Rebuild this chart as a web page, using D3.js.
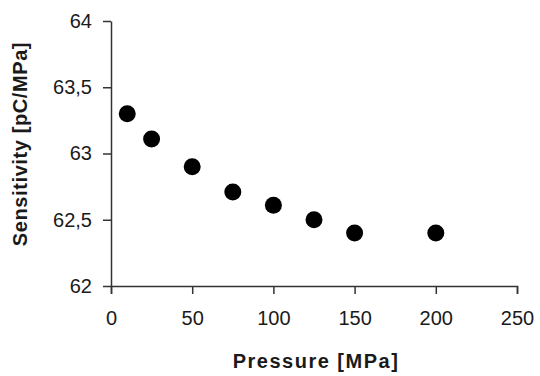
<!DOCTYPE html>
<html>
<head>
<meta charset="utf-8">
<script src="https://cdn.jsdelivr.net/npm/d3@7"></script>
<style>
  html, body { margin: 0; padding: 0; background: #fff; }
  svg { display: block; }
  .tick text { font-family: "Liberation Sans", Arial, sans-serif; font-size: 20px; fill: #1a1a1a; }
  .tick line, .domain { stroke: #333; stroke-width: 1.5px; }
</style>
</head>
<body>
<svg id="chart" width="540" height="376"></svg>
<script>
const pressure = [10, 25, 50, 75, 100, 125, 150, 200];
const sensitivity = [63.30, 63.11, 62.90, 62.71, 62.61, 62.50, 62.40, 62.40];
const xTicks = [0, 50, 100, 150, 200, 250];
const yTicks = [62, 62.5, 63, 63.5, 64];
const yTickLabels = ["62", "62,5", "63", "63,5", "64"];
const xTitle = "Pressure [MPa]";
const yTitle = "Sensitivity [pC/MPa]";

const svg = d3.select("#chart");
const x = d3.scaleLinear().domain([0, 250]).range([111, 517]);
const y = d3.scaleLinear().domain([62, 64]).range([286, 21]);

svg.append("g")
  .attr("transform", "translate(0,286)")
  .call(d3.axisBottom(x).tickValues(xTicks).tickSize(8).tickPadding(17).tickSizeOuter(8))
  .call(g => g.selectAll(".tick text").attr("dy", "0.71em"));

svg.append("g")
  .attr("transform", "translate(111,0)")
  .call(d3.axisLeft(y).tickValues(yTicks).tickSize(8).tickPadding(11).tickSizeOuter(0)
        .tickFormat((d, i) => yTickLabels[i]));

svg.selectAll(".domain").attr("fill", "none");

svg.append("g").selectAll("circle")
  .data(pressure.map((p, i) => ({p, s: sensitivity[i]})))
  .join("circle")
  .attr("cx", d => x(d.p))
  .attr("cy", d => y(d.s))
  .attr("r", 8.5)
  .attr("fill", "#000");

svg.append("text")
  .attr("x", 316).attr("y", 368)
  .attr("text-anchor", "middle")
  .style("font-family", "'Liberation Sans', Arial, sans-serif")
  .style("font-size", "20px").style("font-weight", "bold")
  .style("letter-spacing", "1.5px")
  .attr("fill", "#1a1a1a")
  .text(xTitle);

svg.append("text")
  .attr("transform", "translate(27,144) rotate(-90)")
  .attr("text-anchor", "middle")
  .style("font-family", "'Liberation Sans', Arial, sans-serif")
  .style("font-size", "20px").style("font-weight", "bold")
  .style("letter-spacing", "0.6px")
  .attr("fill", "#1a1a1a")
  .text(yTitle);
</script>
</body>
</html>
